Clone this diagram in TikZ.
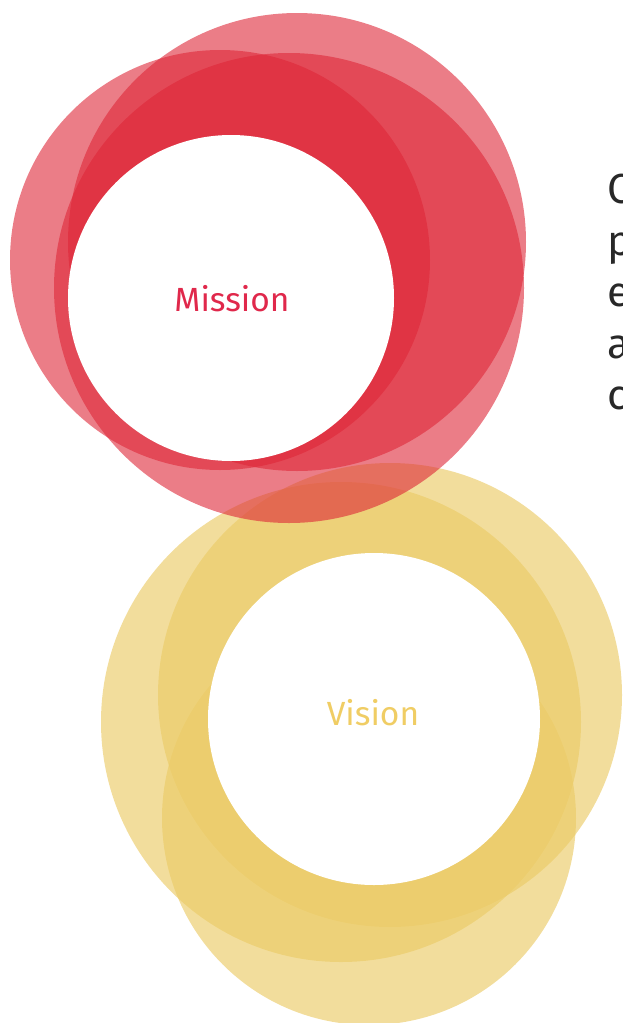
\documentclass[tikz,border=0pt]{standalone}
\usepackage{fontspec}
\setmainfont{Fira Sans}
\definecolor{myred}{RGB}{222,38,55}
\definecolor{myyellow}{RGB}{235,203,103}
\definecolor{myredtext}{RGB}{224,40,75}
\definecolor{myyellowtext}{RGB}{240,205,100}
\definecolor{mygray}{RGB}{40,40,40}
\tikzset{
  redring/.style={fill=myred,fill opacity=0.6},
  yellowring/.style={fill=myyellow,fill opacity=0.65},
  hole/.style={fill=white},
  ringtext/.style={font=\fontsize{33.5}{33.5}\selectfont,inner sep=0pt},
  sidetext/.style={font=\fontsize{42}{51.5}\selectfont,text=mygray,anchor=north west,inner sep=0pt,align=left}
}

\begin{document}
\begin{tikzpicture}[x=1pt,y=-1pt]
  \useasboundingbox (0,0) rectangle (622,1023);

  % vision circles
  \fill[yellowring] (341,722) circle[radius=240pt];
  \fill[yellowring] (390,695) circle[radius=232pt];
  \fill[yellowring] (369,818) circle[radius=207pt];
  \fill[hole] (374,719) circle[radius=166pt];
  \node[ringtext,text=myyellowtext] (vision) at (373,713) {Vision};

  % mission circles
  \fill[redring] (220,260) circle[radius=210pt];
  \fill[redring] (297,242) circle[radius=229pt];
  \fill[redring] (289,288) circle[radius=235pt];
  \fill[hole] (231,298) circle[radius=163pt];
  \node[ringtext,text=myredtext] (mission) at (232,299) {Mission};

  % text cut off at the right
  \node[sidetext] (side) at (607,174) {C\\p\\e\\a\\c};
\end{tikzpicture}
\end{document}
